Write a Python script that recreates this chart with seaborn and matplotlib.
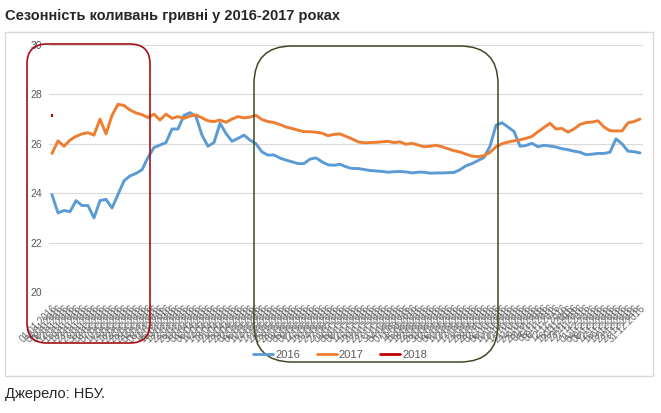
import numpy as np
import pandas as pd
import matplotlib.pyplot as plt
import seaborn as sns
from matplotlib.patches import FancyBboxPatch, Rectangle
from matplotlib.lines import Line2D
from matplotlib.transforms import IdentityTransform

# курс гривні, грн/дол.
uah_2016 = [23.94, 23.2, 23.3, 23.25, 23.7, 23.5, 23.5, 23.0, 23.7, 23.75,
            23.4, 23.95, 24.5, 24.7, 24.8, 24.95, 25.45, 25.85, 25.95, 26.05,
            26.6, 26.6, 27.15, 27.26, 27.1, 26.35, 25.9, 26.05, 26.83, 26.42,
            26.1, 26.22, 26.35, 26.15, 26.0, 25.67, 25.54, 25.55, 25.42, 25.34,
            25.27, 25.2, 25.2, 25.38, 25.43, 25.27, 25.15, 25.13, 25.17, 25.07,
            25.0, 25.0, 24.96, 24.92, 24.9, 24.88, 24.85, 24.87, 24.88, 24.86,
            24.82, 24.85, 24.85, 24.81, 24.82, 24.82, 24.83, 24.84, 24.95, 25.11,
            25.2, 25.32, 25.45, 25.9, 26.75, 26.85, 26.68, 26.5, 25.9, 25.93,
            26.02, 25.88, 25.94, 25.91, 25.87, 25.8, 25.76, 25.7, 25.66, 25.56,
            25.58, 25.61, 25.61, 25.66, 26.2, 26.0, 25.7, 25.68, 25.63]
uah_2017 = [25.61, 26.12, 25.9, 26.15, 26.3, 26.4, 26.45, 26.35, 27.0, 26.4,
            27.15, 27.6, 27.55, 27.37, 27.25, 27.18, 27.06, 27.2, 26.96, 27.2,
            27.03, 27.1, 27.03, 27.12, 27.17, 27.05, 26.93, 26.9, 26.96, 26.87,
            27.0, 27.1, 27.05, 27.08, 27.15, 26.98, 26.9, 26.86, 26.78, 26.68,
            26.62, 26.55, 26.49, 26.49, 26.47, 26.43, 26.33, 26.38, 26.4, 26.3,
            26.2, 26.08, 26.04, 26.05, 26.06, 26.08, 26.1, 26.05, 26.08, 25.98,
            26.02, 25.95, 25.88, 25.9, 25.94, 25.88, 25.8, 25.72, 25.67, 25.58,
            25.5, 25.48, 25.52, 25.65, 25.88, 26.0, 26.07, 26.12, 26.16, 26.22,
            26.3, 26.49, 26.66, 26.83, 26.6, 26.62, 26.47, 26.6, 26.78, 26.86,
            26.88, 26.93, 26.68, 26.53, 26.52, 26.52, 26.85, 26.9, 27.0]
uah_2018 = [27.14]

n = len(uah_2016)
day_labels = pd.date_range('2016-01-01', '2016-12-31', periods=n).strftime('%d.%m.%Y').tolist()
years = ['2016', '2017', '2018']
colors = {'2016': '#5B9BD5', '2017': '#ED7D31', '2018': '#C00000'}

v2018 = uah_2018 + [np.nan] * (n - len(uah_2018))
df = pd.DataFrame({'day': range(n), '2016': uah_2016, '2017': uah_2017, '2018': v2018})
df = df.melt(id_vars='day', var_name='year', value_name='rate')

sns.set_style('white')
plt.rcParams['font.family'] = ['Liberation Sans', 'DejaVu Sans']

fig = plt.figure(figsize=(6.61, 4.13), dpi=100)
H = 413

# рамка діаграми
fig.add_artist(Rectangle((5, H - 376), 648, 344, transform=IdentityTransform(),
                         fill=False, ec='#D9D9D9', lw=1))

ax = fig.add_axes([49 / 661, 1 - 292 / H, (643 - 49) / 661, (292 - 45) / H])
lines = df[df['year'] != '2018']
sns.lineplot(data=lines, x='day', y='rate', hue='year', palette=colors,
             linewidth=2.1, legend=False, ax=ax)
sns.scatterplot(data=df[df['year'] == '2018'].dropna(), x='day', y='rate',
                color=colors['2018'], marker='s', s=4, edgecolor='none',
                legend=False, ax=ax)

ax.set_xlim(-0.5, n - 0.5)
ax.set_ylim(20, 30)
ax.set_yticks(range(20, 31, 2))
ax.set_xticks(range(n))
ax.set_xticklabels(day_labels, rotation=45, ha='right', rotation_mode='anchor',
                   fontsize=7, color='#666666')
ax.tick_params(axis='y', labelsize=7.5, labelcolor='#595959', length=0, pad=5)
ax.tick_params(axis='x', length=0, pad=8)
ax.yaxis.grid(True, color='#D9D9D9', lw=0.8)
ax.set_xlabel('')
ax.set_ylabel('')
for s in ax.spines.values():
    s.set_visible(False)

handles = [Line2D([], [], color=colors[y], lw=2) for y in years]
fig.legend(handles, years, loc='center', bbox_to_anchor=(340 / 661, 1 - 355 / H),
           ncol=3, frameon=False, fontsize=8, handlelength=1.8, columnspacing=1.5,
           handletextpad=0.2, labelcolor='#595959')

# виділення сезонних періодів
fig.add_artist(FancyBboxPatch((27, H - 343), 123, 299, transform=IdentityTransform(),
                              boxstyle='round,pad=0,rounding_size=20',
                              fill=False, ec='#A50F15', lw=1.2))
fig.add_artist(FancyBboxPatch((254, H - 362), 244, 316, transform=IdentityTransform(),
                              boxstyle='round,pad=0,rounding_size=38',
                              fill=False, ec='#3B4A26', lw=1.1))

fig.text(5 / 661, 1 - 16 / H, 'Сезонність коливань гривні у 2016-2017 роках',
         fontsize=10.5, fontweight='bold', va='center', ha='left')
fig.text(5 / 661, 1 - 394 / H, 'Джерело: НБУ.', fontsize=10.5, va='center', ha='left')

fig.savefig('out.png', dpi=100)
